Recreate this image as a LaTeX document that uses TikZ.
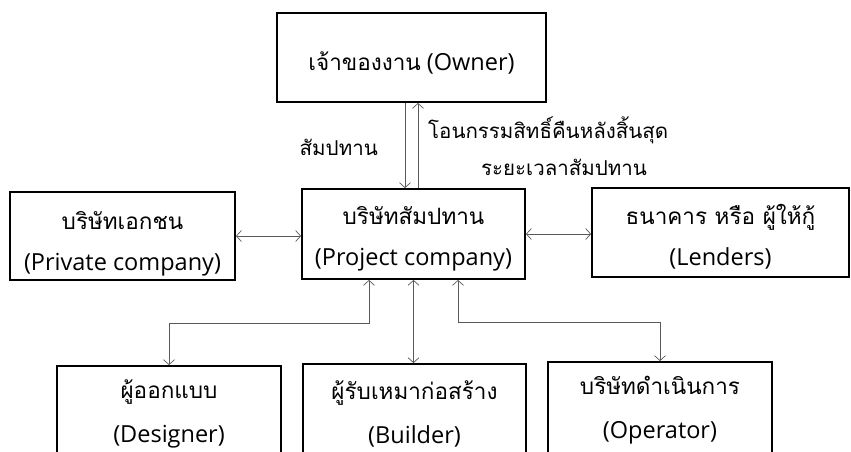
\documentclass[tikz,border=0pt]{standalone}
\usepackage{fontspec}
\setmainfont{Open Sans}
\newfontfamily\thaifont[Script=Thai]{Loma}
\newcommand\thtxt[1]{{\thaifont\fontsize{22.5}{41}\selectfont #1}}
\usetikzlibrary{arrows.meta}
\begin{document}
\begin{tikzpicture}[x=1pt,y=-1pt,
  box/.style={draw=black,line width=1.8pt,inner sep=0pt,align=center,
    text depth=0pt,font=\fontsize{23.5}{41}\selectfont},
  lowbox/.style={box,font=\fontsize{23.5}{44}\selectfont},
  conn/.style={draw=black!65,line width=0.7pt},
  barb/.tip={Straight Barb[length=5pt,width=11pt]},
  lbl/.style={inner sep=0pt,font=\thaifont\fontsize{20.5}{38}\selectfont}]
\useasboundingbox (0,0) rectangle (851,451);
\clip (0,0) rectangle (851,451);
\node[box,minimum width=269pt,minimum height=89pt,text height=25pt] (owner) at (411.5,57.5) {\thtxt{เจ้าของงาน} (Owner)};
\node[box,minimum width=225pt,minimum height=88pt,text height=68pt] (private) at (122.5,236) {\thtxt{บริษัทเอกชน}\\(Private company)};
\node[box,minimum width=223pt,minimum height=90pt,text height=62pt] (project) at (413.5,234) {\thtxt{บริษัทสัมปทาน}\\(Project company)};
\node[box,minimum width=257pt,minimum height=89pt,text height=65pt] (lenders) at (720.5,232.5) {\thtxt{ธนาคาร หรือ ผู้ให้กู้}\\(Lenders)};
\node[lowbox,minimum width=224pt,minimum height=102pt,text height=50pt] (designer) at (169,417) {\thtxt{ผู้ออกแบบ}\\(Designer)};
\node[lowbox,minimum width=223pt,minimum height=102pt,text height=56pt] (builder) at (414.5,415) {\thtxt{ผู้รับเหมาก่อสร้าง}\\(Builder)};
\node[lowbox,minimum width=224pt,minimum height=102pt,text height=50pt] (operator) at (660,413) {\thtxt{บริษัทดำเนินการ}\\(Operator)};
\coordinate (c1) at ([xshift=-6.5pt]owner.south);
\coordinate (c2) at ([xshift=6.5pt]owner.south);
\coordinate (d1) at ([xshift=-44.5pt]project.south);
\coordinate (d2) at ([xshift=44.5pt]project.south);
\draw[conn,-barb] (c1) -- (c1 |- project.north);
\draw[conn,-barb] (c2 |- project.north) -- (c2);
\draw[conn,barb-barb] (private.east) -- (private.east -| project.west);
\draw[conn,barb-barb] (project.east) -- (project.east -| lenders.west);
\draw[conn,barb-barb] (d1) -- ++(0,43) -| (designer.north);
\draw[conn,barb-barb] (project.south) -- (project.south |- builder.north);
\draw[conn,barb-barb] (d2) -- ++(0,42) -| (operator.north);
\node[lbl,anchor=base east] (l1) at (378,155) {สัมปทาน};
\node[lbl,anchor=base west] (l2) at (428,138) {โอนกรรมสิทธิ์คืนหลังสิ้นสุด};
\node[lbl,anchor=base west] (l3) at (481,175) {ระยะเวลาสัมปทาน};
\end{tikzpicture}
\end{document}
